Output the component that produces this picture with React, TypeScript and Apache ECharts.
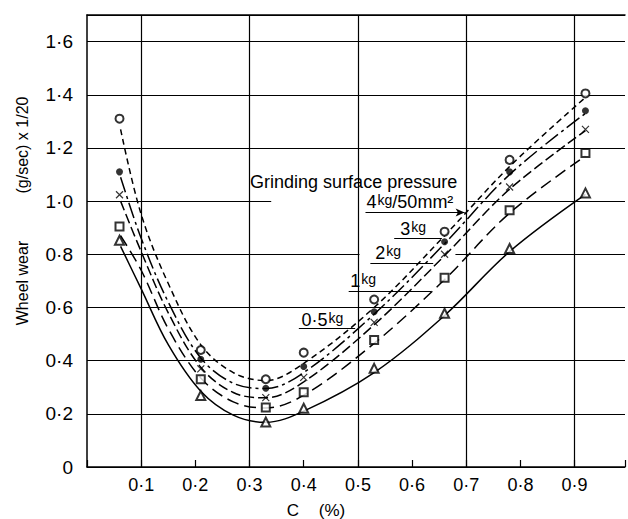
import React, { useEffect, useRef } from 'react';
import * as echarts from 'echarts';

// ---------- data ----------
const xTickLabels = ['', '0·1', '0·2', '0·3', '0·4', '0·5', '0·6', '0·7', '0·8', '0·9'];
const yTickLabels = ['0', '0·2', '0·4', '0·6', '0·8', '1·0', '1·2', '1·4', '1·6'];
const pressures = ['4kg/50mm²', '3kg', '2kg', '1kg', '0·5kg'];

// measured points (C %, wheel wear)
const cMeasured = [0.06, 0.21, 0.33, 0.40, 0.53, 0.66, 0.78, 0.92];
const wear4kg = [1.31, 0.44, 0.33, 0.43, 0.63, 0.885, 1.155, 1.405];
const wear3kg = [1.11, 0.405, 0.296, 0.378, 0.584, 0.847, 1.11, 1.34];
const wear2kg = [1.024, 0.369, 0.261, 0.337, 0.544, 0.80, 1.053, 1.27];
const wear1kg = [0.905, 0.33, 0.224, 0.281, 0.478, 0.712, 0.966, 1.181];
const wear05kg = [0.853, 0.269, 0.169, 0.221, 0.371, 0.578, 0.822, 1.031];

// fitted curves
const cCurve = [0.062, 0.1, 0.15, 0.21, 0.27, 0.33, 0.40, 0.53, 0.66, 0.78, 0.92];
const fit4kg = [1.27, 0.95, 0.69, 0.46, 0.355, 0.325, 0.39, 0.60, 0.87, 1.13, 1.39];
const fit3kg = [1.09, 0.86, 0.62, 0.41, 0.315, 0.295, 0.355, 0.575, 0.84, 1.10, 1.33];
const fit2kg = [1.0, 0.81, 0.58, 0.375, 0.28, 0.26, 0.32, 0.535, 0.795, 1.045, 1.265];
const fit1kg = [0.87, 0.74, 0.52, 0.335, 0.245, 0.222, 0.27, 0.465, 0.705, 0.955, 1.17];
const fit05kg = [0.83, 0.67, 0.46, 0.285, 0.195, 0.168, 0.21, 0.355, 0.57, 0.81, 1.025];

const measured = [wear4kg, wear3kg, wear2kg, wear1kg, wear05kg];
const fits = [fit4kg, fit3kg, fit2kg, fit1kg, fit05kg];

// ---------- styling ----------
const FONT = '"Liberation Sans", Arial, sans-serif';
const XMAX = 0.993;
const YMAX = 1.7;
const xGridValues = [0.1, 0.3, 0.5, 0.7, 0.9];

const dashTypes: any[] = [[6, 4], [16, 4, 3, 4], [10, 4], [12, 6], 'solid'];
const symbols = ['emptyCircle', 'circle', 'path://M0,0L10,10M10,0L0,10', 'emptyRect', 'emptyTriangle'];
const symbolSizes = [8, 7, 7, 8, 9];

// leader lines in data coords
const leaders = [
  { from: [0.514, 0.957], to: [0.697, 0.957], arrow: true },
  { from: [0.567, 0.859], to: [0.655, 0.859], arrow: false },
  { from: [0.523, 0.765], to: [0.639, 0.765], arrow: false },
  { from: [0.483, 0.66], to: [0.635, 0.66], arrow: false },
  { from: [0.391, 0.522], to: [0.495, 0.522], arrow: false },
];

const labelTexts = [
  { text: '{a|Grinding surface pressure}', x: 0.301, y: 1.073 },
  { text: '{a|4}{b|kg}{a|/50mm²}', x: 0.516, y: 0.998 },
  { text: '{a|3}{b|kg}', x: 0.578, y: 0.897 },
  { text: '{a|2}{b|kg}', x: 0.532, y: 0.803 },
  { text: '{a|1}{b|kg}', x: 0.486, y: 0.698 },
  { text: '{a|0·5}{b|kg}', x: 0.396, y: 0.552 },
];

// grid segments erased on the original paper (data coords)
const eraseBoxes = [
  { x0: 0.34, x1: 0.703, y0: 0.985, y1: 1.015 },
  { x0: 0.49, x1: 0.51, y0: 0.878, y1: 1.167 },
  { x0: 0.503, x1: 0.68, y0: 0.785, y1: 0.815 },
];

export default function App() {
  const ref = useRef<HTMLDivElement>(null);

  useEffect(() => {
    const chart = echarts.init(ref.current!, undefined, { renderer: 'svg' });

    const series: any[] = [];

    series.push({
      type: 'line',
      data: [],
      z: 1,
      silent: true,
      markLine: {
        silent: true,
        symbol: ['none', 'none'],
        label: { show: false },
        lineStyle: { color: '#000', width: 1.2, type: 'solid' },
        data: xGridValues.map((v) => ({ xAxis: v })),
      },
    });

    pressures.forEach((name, i) => {
      series.push({
        name: name + ' fit',
        type: 'line',
        data: cCurve.map((x, j) => [x, fits[i][j]]),
        smooth: 0.35,
        symbol: 'none',
        showSymbol: false,
        silent: true,
        z: 2,
        lineStyle: { color: '#000', width: 1.5, type: dashTypes[i] },
      });
    });

    pressures.forEach((name, i) => {
      series.push({
        name,
        type: 'scatter',
        data: cMeasured.map((x, j) => [x, measured[i][j]]),
        symbol: symbols[i],
        symbolSize: symbolSizes[i],
        z: 3,
        silent: true,
        itemStyle: { color: '#000', borderColor: '#000', borderWidth: i === 1 ? 0 : 1.2 },
      });
    });

    series.push({
      type: 'line',
      data: [],
      z: 4,
      silent: true,
      markLine: {
        silent: true,
        symbol: ['none', 'none'],
        label: { show: false },
        lineStyle: { color: '#000', width: 1.2, type: 'solid' },
        data: leaders.map((l) => [
          { coord: l.from, symbol: 'none' },
          { coord: l.to, symbol: l.arrow ? 'arrow' : 'none', symbolSize: l.arrow ? [6, 9] : 0 },
        ]),
      },
    });

    chart.setOption({
      animation: false,
      backgroundColor: '#fff',
      grid: { left: 87, right: 0, top: 15, bottom: 52, containLabel: false },
      xAxis: [
        {
          type: 'value',
          min: 0,
          max: XMAX,
          interval: 0.1,
          axisLine: { show: true, lineStyle: { color: '#000', width: 1.5 } },
          axisTick: { show: true, inside: true, length: 7, lineStyle: { color: '#000', width: 1.2 } },
          axisLabel: {
            color: '#000',
            fontSize: 18,
            fontFamily: FONT,
            margin: 9,
            formatter: (v: number) => {
              const k = Math.round(v * 10);
              if (Math.abs(v * 10 - k) > 1e-6) return '';
              return xTickLabels[k] ?? '';
            },
          },
          splitLine: { show: false },
        },
        {
          type: 'value',
          position: 'top',
          min: 0,
          max: XMAX,
          axisLine: { show: true, lineStyle: { color: '#000', width: 1.5 } },
          axisTick: { show: false },
          axisLabel: { show: false },
          splitLine: { show: false },
        },
      ],
      yAxis: {
        type: 'value',
        min: 0,
        max: YMAX,
        interval: 0.2,
        axisLine: { show: true, lineStyle: { color: '#000', width: 1.5 } },
        axisTick: { show: false },
        axisLabel: {
          color: '#000',
          fontSize: 19,
          fontFamily: FONT,
          margin: 14,
          formatter: (v: number) => {
            const k = Math.round(v / 0.2);
            if (Math.abs(v / 0.2 - k) > 1e-6) return '';
            return yTickLabels[k] ?? '';
          },
        },
        splitLine: { show: true, lineStyle: { color: '#000', width: 1.2 } },
      },
      series,
    });

    const px = (x: number, y: number) => chart.convertToPixel({ gridIndex: 0 }, [x, y]) as number[];
    const graphic: any[] = [];

    eraseBoxes.forEach((b) => {
      const p0 = px(b.x0, b.y1);
      const p1 = px(b.x1, b.y0);
      graphic.push({
        type: 'rect',
        silent: true,
        z: 1.5,
        shape: { x: p0[0], y: p0[1], width: p1[0] - p0[0], height: p1[1] - p0[1] },
        style: { fill: '#fff' },
      });
    });

    labelTexts.forEach((t) => {
      const p = px(t.x, t.y);
      graphic.push({
        type: 'text',
        silent: true,
        z: 10,
        x: p[0],
        y: p[1],
        style: {
          text: t.text,
          align: 'left',
          verticalAlign: 'middle',
          fill: '#000',
          fontFamily: FONT,
          rich: {
            a: { fontSize: 18, fontFamily: FONT, fill: '#000' },
            b: { fontSize: 14, fontFamily: FONT, fill: '#000', padding: [0, 0, 4, 1] },
          },
        },
      });
    });

    graphic.push(
      {
        type: 'text',
        silent: true,
        z: 10,
        x: 22,
        y: 283,
        rotation: Math.PI / 2,
        style: { text: 'Wheel wear', align: 'center', verticalAlign: 'middle', fontSize: 16, fontFamily: FONT, fill: '#000' },
      },
      {
        type: 'text',
        silent: true,
        z: 10,
        x: 22,
        y: 145,
        rotation: Math.PI / 2,
        style: { text: '(g/sec) x 1/20', align: 'center', verticalAlign: 'middle', fontSize: 16, fontFamily: FONT, fill: '#000' },
      },
      {
        type: 'text',
        silent: true,
        z: 10,
        x: 293,
        y: 510,
        style: { text: 'C', align: 'center', verticalAlign: 'middle', fontSize: 17, fontFamily: FONT, fill: '#000' },
      },
      {
        type: 'text',
        silent: true,
        z: 10,
        x: 332,
        y: 510,
        style: { text: '(%)', align: 'center', verticalAlign: 'middle', fontSize: 17, fontFamily: FONT, fill: '#000' },
      }
    );

    chart.setOption({ graphic });

    return () => chart.dispose();
  }, []);

  return <div ref={ref} style={{ position: 'absolute', left: 0, top: 0, width: 628, height: 519 }} />;
}
